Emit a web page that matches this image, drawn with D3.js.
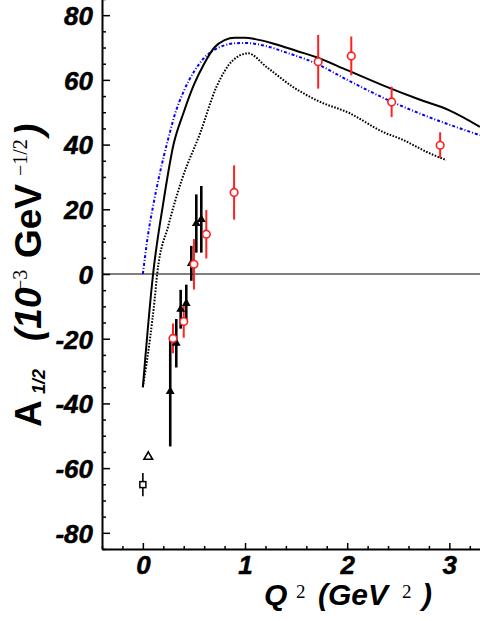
<!DOCTYPE html>
<html>
<head>
<meta charset="utf-8">
<script src="https://cdn.jsdelivr.net/npm/d3@7"></script>
<style>
	body { margin: 0; background: #fff; }
	svg { display: block; }
</style>
</head>
<body>
<div id="chart"></div>
<script>
// model curves
var solidQ2 = [0, 0.1, 0.2, 0.3, 0.4, 0.5, 0.6, 0.7, 0.8, 0.9, 1.0, 1.1, 1.3, 1.5, 1.7, 2.0, 2.35, 2.7, 3.0, 3.3];
var solidA  = [-35, 0, 22, 40, 50, 58.5, 65, 70, 72.3, 73, 73, 72.6, 71, 69, 67, 63, 58.3, 54, 50.6, 45.5];

var blueQ2 = [0, 0.05, 0.1, 0.165, 0.25, 0.31, 0.4, 0.5, 0.6, 0.7, 0.8, 0.9, 1.0, 1.2, 1.4, 1.7, 2.0, 2.44, 2.8, 3.3];
var blueA  = [0, 12, 21, 31, 42, 49, 56.5, 62.5, 66.8, 69.3, 70.7, 71.3, 71.4, 70.5, 68.5, 65, 60, 53.2, 48.5, 42.9];

var dotQ2 = [0, 0.07, 0.115, 0.14, 0.25, 0.38, 0.56, 0.72, 0.88, 1.03, 1.21, 1.47, 1.7, 2.03, 2.35, 2.55, 2.78, 2.97];
var dotA  = [-35, -20, -8, 0, 15, 29, 43.5, 57.8, 66, 68.2, 64, 57.8, 53.7, 49.6, 43.9, 41.4, 37.7, 35.2];

// data points
var circleQ2  = [0.295, 0.40, 0.50, 0.621, 0.893, 1.716, 2.04, 2.435, 2.91];
var circleA   = [-19.9, -14.7, 3.0, 12.3, 25.2, 65.6, 67.4, 53.2, 39.8];
var circleErr = [4.6, 5.0, 7.8, 7.5, 8.4, 8.3, 6.0, 4.7, 4.0];

var triQ2  = [0.268, 0.327, 0.37, 0.425, 0.474, 0.523, 0.572];
var triA   = [-36.3, -21.4, -10.9, -9.1, 3.3, 15.6, 16.9];
var triErr = [17, 7.5, 6, 5.8, 5.4, 9, 10.3];

var openTriQ2 = [0.053];
var openTriA  = [-56.5];

var squareQ2  = [0];
var squareA   = [-65.1];
var squareErr = [3.6];

var xTicks = [0, 1, 2, 3];
var yTicks = [-80, -60, -40, -20, 0, 20, 40, 60, 80];

var width = 480, height = 621;

var svg = d3.select("#chart").append("svg")
	.attr("width", width)
	.attr("height", height);

var x = d3.scaleLinear([-0.4, 3.3], [102, 480]);
var y = d3.scaleLinear([-85, 85], [549, -1]);

var sansBI = "bold italic 26px 'Liberation Sans', Arial, sans-serif";

// zero line
svg.append("line")
	.attr("x1", x(-0.4)).attr("x2", x(3.3))
	.attr("y1", y(0)).attr("y2", y(0))
	.attr("stroke", "#000")
	.attr("stroke-width", 1.2);

// minor ticks
var yMinor = d3.range(-85, 86, 5).filter(d => d % 20 !== 0);
var xMinor = d3.range(-4, 33, 2).map(d => d / 10).filter(d => d % 1 !== 0);

svg.append("g")
	.attr("transform", `translate(${x(-0.4)},0)`)
	.call(d3.axisLeft(y).tickValues(yMinor).tickSize(-4).tickFormat(""))
	.call(g => g.select(".domain").remove())
	.selectAll("line").attr("stroke-width", 1.5);

svg.append("g")
	.attr("transform", `translate(0,${y(-85)})`)
	.call(d3.axisBottom(x).tickValues(xMinor).tickSize(-3).tickFormat(""))
	.call(g => g.select(".domain").remove())
	.selectAll("line").attr("stroke-width", 1.5);

// major axes
var yAxis = svg.append("g")
	.attr("transform", `translate(${x(-0.4)},0)`)
	.call(d3.axisLeft(y).tickValues(yTicks).tickSize(-8).tickSizeOuter(0).tickPadding(9)
		.tickFormat(d => String(d)));
yAxis.select(".domain").attr("stroke-width", 2);
yAxis.selectAll("line").attr("stroke-width", 1.5);
yAxis.selectAll("text")
	.style("font", sansBI)
	.attr("stroke", "#000")
	.attr("stroke-width", 0.5)
	.attr("dy", "0.36em");

var xAxis = svg.append("g")
	.attr("transform", `translate(0,${y(-85)})`)
	.call(d3.axisBottom(x).tickValues(xTicks).tickSize(-6).tickSizeOuter(0).tickPadding(7)
		.tickFormat(d => String(d)));
xAxis.select(".domain").attr("stroke-width", 2);
xAxis.selectAll("line").attr("stroke-width", 1.5);
xAxis.selectAll("text")
	.style("font", sansBI)
	.attr("stroke", "#000")
	.attr("stroke-width", 0.5)
	.attr("dy", "0.71em");

// curves
var line = d3.line()
	.x(d => x(d[0]))
	.y(d => y(d[1]))
	.curve(d3.curveMonotoneX);

svg.append("path")
	.datum(d3.zip(blueQ2, blueA))
	.attr("d", line)
	.attr("fill", "none")
	.attr("stroke", "#0000ff")
	.attr("stroke-width", 2)
	.attr("stroke-dasharray", "3,2,1,2");

svg.append("path")
	.datum(d3.zip(dotQ2, dotA))
	.attr("d", line)
	.attr("fill", "none")
	.attr("stroke", "#000")
	.attr("stroke-width", 2)
	.attr("stroke-dasharray", "1.6,1.5");

svg.append("path")
	.datum(d3.zip(solidQ2, solidA))
	.attr("d", line)
	.attr("fill", "none")
	.attr("stroke", "#000")
	.attr("stroke-width", 2);

// error bars
function errBars(q, a, e, color, w) {
	svg.append("g")
		.attr("stroke", color)
		.attr("stroke-width", w)
		.selectAll("line")
		.data(d3.zip(q, a, e))
		.join("line")
		.attr("x1", d => x(d[0])).attr("x2", d => x(d[0]))
		.attr("y1", d => y(d[1] + d[2])).attr("y2", d => y(d[1] - d[2]));
}

errBars(squareQ2, squareA, squareErr, "#000", 1.6);
errBars(triQ2, triA, triErr, "#000", 2.6);
errBars(circleQ2, circleA, circleErr, "#ff2020", 2);

var tri = d3.symbol().type(d3.symbolTriangle).size(34);

svg.append("g")
	.selectAll("path")
	.data(d3.zip(triQ2, triA))
	.join("path")
	.attr("d", tri)
	.attr("transform", d => `translate(${x(d[0])},${y(d[1])})`)
	.attr("fill", "#000");

svg.append("g")
	.selectAll("path")
	.data(d3.zip(openTriQ2, openTriA))
	.join("path")
	.attr("d", d3.symbol().type(d3.symbolTriangle).size(32))
	.attr("transform", d => `translate(${x(d[0])},${y(d[1])})`)
	.attr("fill", "#fff")
	.attr("stroke", "#000")
	.attr("stroke-width", 1.6);

svg.append("g")
	.selectAll("rect")
	.data(d3.zip(squareQ2, squareA))
	.join("rect")
	.attr("x", d => x(d[0]) - 3)
	.attr("y", d => y(d[1]) - 3)
	.attr("width", 6)
	.attr("height", 6)
	.attr("fill", "#fff")
	.attr("stroke", "#000")
	.attr("stroke-width", 1.5);

svg.append("g")
	.selectAll("circle")
	.data(d3.zip(circleQ2, circleA))
	.join("circle")
	.attr("cx", d => x(d[0]))
	.attr("cy", d => y(d[1]))
	.attr("r", 3.8)
	.attr("fill", "#fff")
	.attr("stroke", "#ff2020")
	.attr("stroke-width", 1.6);

// axis titles
var serif = "'Liberation Serif', 'Times New Roman', serif";
var sans = "'Liberation Sans', Arial, sans-serif";

var xt = svg.append("text")
	.attr("x", 265)
	.attr("y", 605)
	.style("font-family", sans)
	.style("font-size", "30px");
xt.append("tspan").attr("x", 264).style("font-weight", "bold").style("font-style", "italic").text("Q");
xt.append("tspan").attr("x", 296).attr("dy", -7).style("font-family", serif).style("font-size", "19px").text("2");
xt.append("tspan").attr("x", 318).attr("dy", 7).style("font-weight", "bold").style("font-style", "italic").text("(GeV");
xt.append("tspan").attr("x", 402).attr("dy", -7).style("font-family", serif).style("font-size", "19px").text("2");
xt.append("tspan").attr("x", 422).attr("dy", 7).style("font-weight", "bold").style("font-style", "italic").text(")");

var yt = svg.append("text")
	.attr("transform", "translate(41,427) rotate(-90)")
	.style("font-family", sans)
	.style("font-size", "37px");
yt.append("tspan").attr("x", 0).style("font-weight", "bold").text("A");
yt.append("tspan").attr("x", 33).attr("dy", 4).style("font-weight", "bold").style("font-style", "italic").style("font-size", "18px").text("1/2");
yt.append("tspan").attr("x", 86).attr("dy", -4).style("font-weight", "bold").style("font-style", "italic").text("(10");
yt.append("tspan").attr("x", 136).attr("dy", -14).style("font-family", serif).style("font-size", "20px").text("\u22123");
yt.append("tspan").attr("x", 169).attr("dy", 14).style("font-weight", "bold").text("GeV");
yt.append("tspan").attr("x", 251).attr("dy", -14).style("font-family", serif).style("font-size", "20px").text("\u22121/2");
yt.append("tspan").attr("x", 291).attr("dy", 14).style("font-weight", "bold").style("font-style", "italic").text(")");
</script>
</body>
</html>
